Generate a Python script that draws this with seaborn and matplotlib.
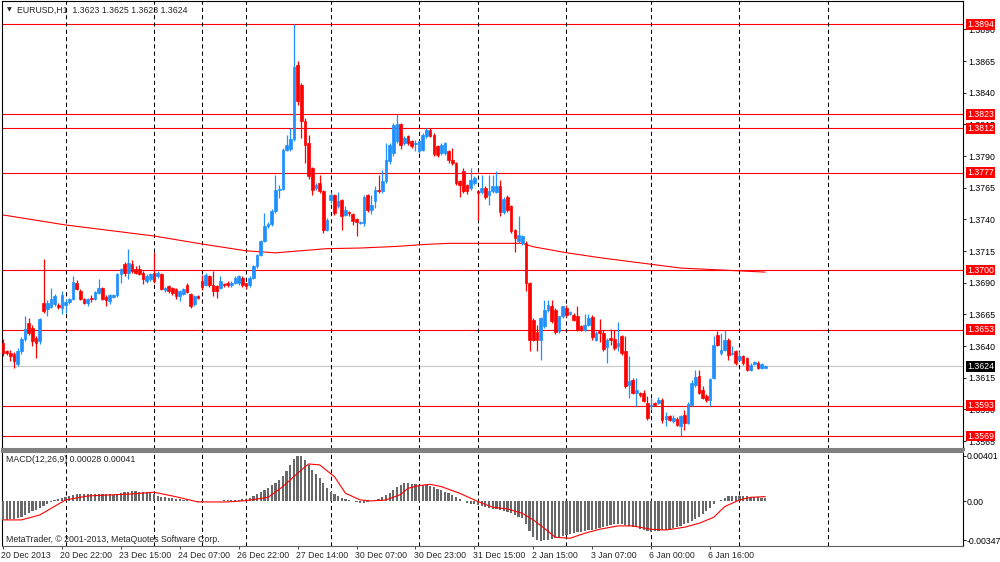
import numpy as np
import matplotlib
matplotlib.use("Agg")
import matplotlib.pyplot as plt
import seaborn as sns

# EURUSD H1 candles, values are pips above BASE_PRICE
BASE_PRICE = 1.3600

open_pips = [
    42.6, 36.1, 34.7, 33.4, 25.5, 36.1, 45.8, 58.4, 54.5, 46.6,
    43.9, 74.2, 68.9, 71.1, 72.9, 72.1, 70.3, 72.1, 74.7, 76.8,
    90, 83.4, 77.4, 74.2, 78.2, 76.8, 82.1, 85.5, 78.7, 75.5,
    78.9, 80, 96.6, 104.5, 97.9, 104.5, 101, 101, 97.9, 91.3,
    92.6, 97.9, 95.3, 96.6, 84.2, 87.4, 86.1, 84.7, 79.5, 80.8,
    87.9, 80.8, 72.9, 79.5, 91.1, 88.4, 95, 88.4, 87.1, 85.8,
    88.9, 89.7, 88.4, 89.7, 89.7, 93.7, 89.7, 88.4, 93.7, 102.9,
    112.1, 123.2, 134.5, 136.3, 146.3, 163.4, 164.2, 195, 195.8, 203.7,
    262.1, 246.3, 217.4, 200.3, 180.5, 164.7, 168.7, 162.1, 131.8, 155.5,
    159.5, 150.3, 155, 143.7, 145.8, 144.2, 140.5, 137.1, 137.1, 159.5,
    147.6, 154.5, 163.4, 162.1, 170, 185.8, 192.4, 202, 215.5, 200.3,
    205.5, 201.6, 199.2, 193.7, 195, 205.5, 210.8, 206.8, 197.6, 192.4,
    192.4, 193.7, 187, 184.5, 170, 177.9, 167.4, 164.7, 168.7, 162.1,
    161.3, 164.7, 159.5, 162.1, 162, 166.6, 145.5, 157.6, 150.3, 131.8,
    122.6, 121.3, 121.3, 89.7, 60.8, 50.8, 45, 55.5, 68.7, 71.8,
    68.7, 51.6, 63.4, 70, 65.5, 64.7, 63.4, 55.5, 52.9, 56.8,
    63, 45.1, 51.7, 50.4, 39.3, 46.4, 45.6, 39.8, 47.7, 35.9,
    9.6, 13.5, 3, 3, 3, -4.9, -7.5, -4.9, -4.9, -2.3,
    -17.5, -15.4, -19.4, -17.5, -23.3, -14.1, -20.7, -6.2, 9.6, 16.2,
    5.6, 0.9, -2.3, 14.8, 49, 34.6, 37.2, 45.1, 34.1, 35.9,
    29.3, 32, 30.6, 21.4, 26.1, 26.7, 22.7, 23,
]
high_pips = [
    45.3, 37, 37, 35, 38.7, 47, 63.7, 62, 57, 48,
    62, 108.9, 76, 85.5, 81, 74, 83.4, 76.8, 78, 95.3,
    92, 85, 78, 78, 80, 83.4, 92.6, 87, 80, 81,
    81, 98, 102, 106, 116.8, 108, 103, 104, 99, 97,
    98, 114.2, 99, 98, 87, 88, 87, 86, 84, 86,
    90, 82, 80, 80, 96.3, 97.6, 96, 99.5, 88, 95,
    90, 91, 91, 95, 96, 95, 90, 95, 104, 113,
    123.9, 145, 138, 148, 175.3, 167.4, 196, 206.8, 212.1, 294.2,
    264.7, 248, 220, 206.8, 181, 169, 175.3, 163, 141.1, 162,
    160, 162, 156, 150.3, 147, 145, 141, 139, 159.5, 160,
    159.5, 166.1, 175.3, 179.2, 200.3, 200, 216, 223.4, 216, 206,
    207, 203, 202.6, 203, 208, 212.1, 212, 208, 199, 200,
    200.8, 195, 196, 185, 171, 180.5, 168, 180.5, 174, 163,
    175.3, 166, 175.3, 175.3, 177.9, 171.3, 158, 159, 151, 132.6,
    142.4, 128, 122.6, 90.5, 62, 56.8, 63, 76.6, 76.6, 76.6,
    70, 64, 72, 72.6, 67.5, 66, 71.8, 56.5, 65.5, 65.5,
    64.8, 52, 61.4, 53, 46, 53.5, 53, 59, 49, 47.7,
    32, 15, 14.8, 4, 5.6, 0.3, -0.9, -4, -0.1, -1,
    -12.3, -14, -14.1, -16, -14, -10.2, -4, 13.5, 21.4, 21.4,
    8.3, 2, 15, 47.7, 51.7, 50.4, 53, 46, 39.8, 37,
    35.9, 33, 31.5, 26.5, 28, 28, 27, 25,
]
low_pips = [
    32.1, 33, 28, 22.9, 24, 34, 44, 49, 40, 30.8,
    42, 66, 63.7, 70, 72, 69, 65, 66.3, 73, 76,
    84, 76, 73, 71.6, 75, 76, 81, 76, 72, 73,
    78, 79, 90, 95, 92.6, 98, 97, 96, 89, 90,
    91, 90, 94, 84, 83, 82, 80, 77, 75.5, 80,
    82, 70, 72, 77, 84.5, 87.1, 87, 79.2, 77.9, 85,
    87, 87, 87, 89, 88, 87, 85, 87, 93, 102,
    111, 122, 133, 135, 145, 156.8, 163, 194, 193.7, 202,
    230, 204.2, 184.5, 172, 159.5, 163, 161, 129.2, 130.5, 152.9,
    143.7, 149, 131.8, 142.4, 143, 135.8, 126.6, 136, 134.5, 146,
    144.2, 149, 161, 161, 169, 184, 190, 200, 195.5, 199,
    199, 196, 193.7, 192.4, 194, 204, 205, 190, 189, 191,
    191, 184.5, 183, 167, 157.6, 161, 160, 163, 167, 139.7,
    160, 156, 151.6, 161, 161, 142.9, 144, 146, 129, 114.5,
    121, 120, 83.2, 35.8, 44, 35.8, 29.2, 54, 67, 58,
    49.5, 50, 62, 63, 64.5, 59.5, 51.6, 51.6, 51.6, 55.5,
    45.1, 44, 43, 36, 26.7, 41.2, 37, 35.9, 33, 7,
    -0.7, 2, -7.5, 0, -4.5, -18, -10.2, -7, -6, -20.7,
    -22.8, -19, -21, -23, -30.7, -25.9, -21.5, -7, 8, 2,
    -2, -4, -7.5, 14, 40, 33, 36, 29.3, 33, 25,
    28, 25, 20.5, 20.5, 25, 22, 22, 23,
]
close_pips = [
    34.7, 34.7, 32.1, 28.2, 36.1, 45.3, 53.2, 50.5, 43.9, 42.6,
    61.1, 67.6, 74.2, 77.4, 79.5, 71.1, 80, 74.7, 76.8, 90.5,
    84.7, 77.4, 74.2, 77.4, 76.8, 82.6, 86.1, 76.8, 76.3, 80,
    80, 96.6, 101, 97.9, 105.8, 99.2, 97.9, 96.6, 92.6, 95.3,
    96.6, 91.3, 97.9, 84.7, 86.1, 83.4, 82.1, 79.5, 83.4, 84.7,
    82.6, 71.6, 79.5, 78.2, 86.3, 96.3, 88.4, 83.2, 83.2, 91.1,
    88.1, 88.4, 89.7, 93.7, 95, 88.4, 87.1, 93.7, 102.9, 112.1,
    122.6, 134.5, 136.3, 146.8, 163.4, 164.2, 195, 198.9, 203.7, 260,
    233.2, 217.4, 198.9, 173.9, 163.4, 167.4, 162.1, 131.8, 139.7, 159.5,
    145, 154.5, 142.4, 147.6, 144.7, 138.4, 137.9, 137.9, 158, 147.6,
    151.6, 163.4, 162.1, 170, 187.1, 198.9, 214.7, 215, 199, 204.2,
    200.3, 197.6, 200.3, 201.6, 206.8, 210.8, 206, 191.8, 191, 199,
    200.3, 187.1, 184.5, 168.7, 167.4, 162.1, 162.1, 171.3, 172.6, 160.8,
    164.7, 157.6, 162.1, 166.1, 166, 145.5, 156, 147.6, 130.5, 125.3,
    127.9, 126.6, 89.7, 45, 45, 45, 62.1, 68.7, 72.6, 59.5,
    50.8, 63.4, 71.3, 64.7, 66.6, 60.8, 52.9, 52.9, 56.8, 62.1,
    47, 50.4, 50.4, 37.7, 45.1, 45.1, 38.5, 42.5, 34.6, 8.3,
    12.2, 3, 5.6, 1.7, -3.6, -16.7, -6.2, -6.2, -2.3, -18.1,
    -14.9, -18.1, -16.7, -22, -15.4, -20.7, -5.4, 11, 15.6, 3,
    -1, -2.8, 14.1, 41.2, 41.2, 37.2, 44.6, 33.3, 34.6, 26.7,
    32, 26.7, 21.4, 25.4, 27.3, 22.7, 26.2, 24,
]

# moving average line read at a few bars
ma_bars = [0, 17, 41, 54, 66, 74, 79, 88, 97, 107, 115, 121, 141, 144, 153, 162, 184, 207]
ma_prices = [1.37435, 1.37356, 1.37269, 1.37206, 1.37152, 1.37136, 1.37148, 1.37169, 1.37174,
             1.37187, 1.37203, 1.37211, 1.37211, 1.37184, 1.37137, 1.37098, 1.37016, 1.36984]

# MACD histogram per bar, in units of 1e-5
macd_hist_e5 = [
    -165, -165, -160, -155, -150, -135, -120, -105, -90, -75,
    -60, -45, -25, -8, 8, 20, 30, 40, 48, 55,
    60, 63, 65, 65, 65, 65, 66, 65, 62, 60,
    58, 65, 75, 82, 86, 88, 88, 86, 84, 80,
    72, 62, 50, 42, 35, 30, 25, 20, 16, 13,
    10, 4, 0, -3, -3, -1, 1, 2, 3, 5,
    7, 9, 11, 13, 14, 16, 20, 30, 45, 62,
    80, 100, 118, 140, 165, 190, 225, 265, 320, 375,
    401, 398, 365, 320, 280, 240, 205, 165, 120, 85,
    65, 45, 28, 18, 10, 3, -10, -18, -12, -5,
    3, 10, 18, 35, 55, 75, 100, 130, 148, 158,
    160, 155, 150, 146, 145, 145, 135, 125, 112, 100,
    85, 70, 56, 38, 18, 2, -12, -20, -28, -35,
    -45, -55, -62, -68, -72, -77, -85, -95, -106, -120,
    -135, -150, -200, -260, -313, -340, -348, -345, -340, -330,
    -322, -313, -305, -298, -290, -280, -275, -268, -260, -255,
    -250, -244, -239, -230, -222, -212, -203, -201, -203, -209,
    -216, -224, -232, -245, -255, -265, -268, -266, -260, -257,
    -252, -248, -240, -226, -215, -205, -195, -178, -160, -138,
    -115, -85, -60, -20, 0, 15, 25, 45, 48, 50,
    50, 48, 45, 42, 40, 37, 33, 28,
]
signal_bars = [0, 5, 10, 17, 23, 29, 35, 41, 46, 53, 61, 66, 72, 76, 81, 83, 86, 90, 93, 97,
               100, 104, 108, 110, 113, 116, 119, 124, 129, 133, 137, 141, 144, 147, 150, 154,
               158, 162, 167, 171, 176, 180, 185, 189, 193, 196, 200, 203, 207]
signal_e5 = [-165, -165, -121, 12, 47, 56, 65, 80, 47, -6, -6, 6, 35, 130, 277, 330, 322, 218, 71, 12,
             3, 12, 60, 115, 139, 150, 130, 71, -3, -53, -68, -106, -165, -239, -319, -327,
             -283, -248, -218, -218, -248, -254, -230, -195, -142, -47, 12, 35, 41]

level_prices = [1.3894, 1.3823, 1.3812, 1.3777, 1.3700, 1.3653, 1.3593, 1.3569]
last_price = 1.3624
separator_bars = [17, 41, 54, 66, 89, 113, 129, 153, 176, 200, 224]
price_ticks = [1.3565, 1.3590, 1.3615, 1.3640, 1.3665, 1.3690, 1.3715, 1.3740,
               1.3765, 1.3790, 1.3815, 1.3840, 1.3865, 1.3890]
macd_ticks = [0.00401, 0.0, -0.00347]
macd_tick_labels = ['0.00401', '0.00', '-0.00347']
time_bars = [0, 16, 32, 48, 64, 80, 96, 112, 128, 144, 160, 176, 192]
time_labels = ['20 Dec 2013', '20 Dec 22:00', '23 Dec 15:00', '24 Dec 07:00', '26 Dec 22:00',
               '27 Dec 14:00', '30 Dec 07:00', '30 Dec 23:00', '31 Dec 15:00', '2 Jan 15:00',
               '3 Jan 07:00', '6 Jan 00:00', '6 Jan 16:00']

sns.set_style("white")
plt.rcParams['font.family'] = ['Liberation Sans', 'DejaVu Sans']
plt.rcParams['font.size'] = 6.3

FS = 6.3
BULL = '#1E90FF'
BEAR = '#FF0000'

fig = plt.figure(figsize=(10, 5.62), dpi=100)
ax = fig.add_axes([0.002, 0.2011, 0.961, 0.7972])
ax2 = fig.add_axes([0.002, 0.0285, 0.961, 0.1673], sharex=ax)

o = BASE_PRICE + np.array(open_pips) / 1e4
h = BASE_PRICE + np.array(high_pips) / 1e4
l = BASE_PRICE + np.array(low_pips) / 1e4
c = BASE_PRICE + np.array(close_pips) / 1e4
idx = np.arange(len(o))
colors = np.where(c >= o, BULL, BEAR)

# levels and current price
for p in level_prices:
    ax.axhline(p, color='#FF0000', lw=0.8, zorder=2)
ax.axhline(last_price, color='#C8C8C8', lw=0.8, zorder=2)

# day separators
for b in separator_bars:
    for a in (ax, ax2):
        a.axvline(b, color='black', lw=0.75, linestyle=(0, (4, 3)), zorder=2)

# moving average
sns.lineplot(x=ma_bars, y=ma_prices, ax=ax, color='#FF0000', lw=0.8, zorder=2.5)

# candles
ax.vlines(idx, l, h, colors=colors, lw=0.9, zorder=3)
ax.bar(idx, c - o, bottom=o, width=0.72, color=colors, edgecolor=colors,
       linewidth=0.5, zorder=4)

# MACD
ax2.bar(idx, np.array(macd_hist_e5) * 1e-5, width=0.6, color='#686868', linewidth=0, zorder=3)
sns.lineplot(x=signal_bars, y=np.array(signal_e5) * 1e-5, ax=ax2, color='#FF0000', lw=0.8, zorder=4)

ax.set_xlim(-0.27, 260.7)
ax.set_ylim(1.35588, 1.39124)
ax2.set_ylim(-0.003956, 0.004363)

for a in (ax, ax2):
    a.set_xlabel('')
    a.set_ylabel('')
    a.yaxis.tick_right()
    a.tick_params(axis='y', direction='out', length=2.5, width=0.6, pad=1.2,
                  labelsize=FS, colors='black')
ax2.tick_params(axis='y', length=2.0, pad=0.5)

ax.set_yticks(price_ticks)
ax.set_yticklabels([f'{p:.4f}' for p in price_ticks])
ax.tick_params(axis='x', bottom=False, labelbottom=False)

ax2.set_yticks(macd_ticks)
ax2.set_yticklabels(macd_tick_labels)
ax2.set_xticks(time_bars)
ax2.set_xticklabels([''] * len(time_bars))
ax2.tick_params(axis='x', direction='out', length=2.5, width=0.6, bottom=True)
for b, lbl in zip(time_bars, time_labels):
    ax2.annotate(lbl, xy=(b, 0), xycoords=('data', 'axes fraction'), xytext=(-1.2, -3.6),
                 textcoords='offset points', ha='left', va='top', fontsize=FS,
                 annotation_clip=False)

for name in ('left', 'top', 'right'):
    ax.spines[name].set_color('black')
    ax.spines[name].set_linewidth(0.8)
ax.spines['bottom'].set_color('#808080')
ax.spines['bottom'].set_linewidth(2.2)
for name in ('left', 'right'):
    ax2.spines[name].set_color('black')
    ax2.spines[name].set_linewidth(0.8)
ax2.spines['top'].set_color('#808080')
ax2.spines['top'].set_linewidth(1.5)
ax2.spines['bottom'].set_color('#606060')
ax2.spines['bottom'].set_linewidth(0.8)

# price boxes on the right scale
for p in level_prices:
    ax.annotate(f'{p:.4f}', xy=(1, p), xycoords=('axes fraction', 'data'), xytext=(3, 0),
                textcoords='offset points', ha='left', va='center', color='white', fontsize=FS,
                bbox=dict(boxstyle='square,pad=0.1', fc='#FF0000', ec='none'),
                annotation_clip=False, zorder=10)
ax.annotate(f'{last_price:.4f}', xy=(1, last_price), xycoords=('axes fraction', 'data'),
            xytext=(3, 0), textcoords='offset points', ha='left', va='center', color='white',
            fontsize=FS, bbox=dict(boxstyle='square,pad=0.1', fc='black', ec='none'),
            annotation_clip=False, zorder=10)

# header texts
fig.text(0.007, 1 - 10 / 562, '\u25bc', fontsize=4.5, va='center', family='DejaVu Sans')
fig.text(0.017, 1 - 10 / 562, 'EURUSD,H1  1.3623 1.3625 1.3623 1.3624', fontsize=FS, va='center')
fig.text(0.006, 1 - 459 / 562, 'MACD(12,26,9) 0.00028 0.00041', fontsize=FS, va='center')
fig.text(0.006, 1 - 539 / 562, 'MetaTrader, \u00a9 2001-2013, MetaQuotes Software Corp.',
         fontsize=FS, va='center')

fig.savefig('out.png', dpi=100)
